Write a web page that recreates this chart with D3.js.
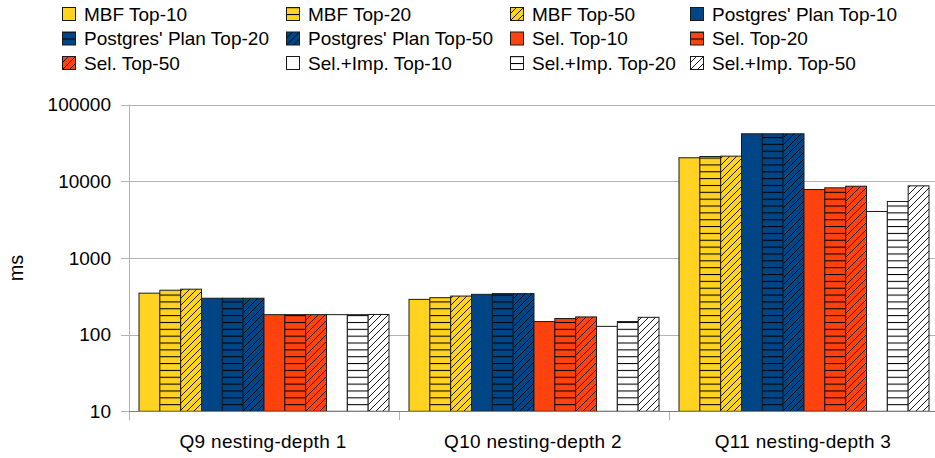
<!DOCTYPE html>
<html>
<head>
<meta charset="utf-8">
<script src="https://cdn.jsdelivr.net/npm/d3@7"></script>
<style>
  body { margin: 0; background: #fff; }
  svg { display: block; font-family: "Liberation Sans", Arial, sans-serif; }
</style>
</head>
<body>
<div id="chart"></div>
<script>
// categories on the x axis
var categories = ["Q9 nesting-depth 1", "Q10 nesting-depth 2", "Q11 nesting-depth 3"];

// series, in legend / bar order
var seriesNames = [
  "MBF Top-10", "MBF Top-20", "MBF Top-50",
  "Postgres' Plan Top-10", "Postgres' Plan Top-20", "Postgres' Plan Top-50",
  "Sel. Top-10", "Sel. Top-20", "Sel. Top-50",
  "Sel.+Imp. Top-10", "Sel.+Imp. Top-20", "Sel.+Imp. Top-50"
];

// values in ms, one array per series (Q9, Q10, Q11)
var mbf10 = [347, 288, 20200];
var mbf20 = [379, 303, 21000];
var mbf50 = [391, 318, 21200];
var pg10 = [298, 335, 41500];
var pg20 = [298, 342, 41500];
var pg50 = [298, 342, 41500];
var sel10 = [182, 148, 7800];
var sel20 = [182, 162, 8200];
var sel50 = [182, 170, 8600];
var si10 = [182, 128, 4030];
var si20 = [182, 148, 5440];
var si50 = [183, 168, 8700];
var seriesValues = [mbf10, mbf20, mbf50, pg10, pg20, pg50, sel10, sel20, sel50, si10, si20, si50];

var yTicks = [10, 100, 1000, 10000, 100000];

// style
var baseColors = ["#ffd320", "#004586", "#ff420e", "#ffffff"];
var hatches = ["none", "horiz", "diag"];

var width = 935, height = 458;
var margin = {top: 104.5, right: -4, bottom: 47, left: 129};

var svg = d3.select("#chart").append("svg")
  .attr("width", width)
  .attr("height", height);

var defs = svg.append("defs");
var hp = defs.append("pattern")
  .attr("id", "horiz")
  .attr("patternUnits", "userSpaceOnUse")
  .attr("width", 8).attr("height", 6.85);
hp.append("line")
  .attr("x1", 0).attr("x2", 8).attr("y1", 0.5).attr("y2", 0.5)
  .attr("stroke", "#000").attr("stroke-width", 1.1);

var dp = defs.append("pattern")
  .attr("id", "diag")
  .attr("patternUnits", "userSpaceOnUse")
  .attr("width", 7).attr("height", 7);
dp.append("path")
  .attr("d", "M0,7 L7,0 M-1,1 L1,-1 M6,8 L8,6")
  .attr("stroke", "#000").attr("stroke-width", 0.9);

var x0 = d3.scaleBand()
  .domain(categories)
  .range([margin.left, width - margin.right]);

var x1 = d3.scaleBand()
  .domain(d3.range(seriesNames.length))
  .range([10, x0.bandwidth() - 10]);

var y = d3.scaleLog()
  .domain([10, 100000])
  .range([height - margin.bottom + 0.3, margin.top]);

// gridlines
svg.append("g")
  .selectAll("line")
  .data(yTicks)
  .join("line")
  .attr("x1", margin.left - 8)
  .attr("x2", width)
  .attr("y1", function(d) { return Math.round(y(d)) + 0.5; })
  .attr("y2", function(d) { return Math.round(y(d)) + 0.5; })
  .attr("stroke", "#b3b3b3")
  .attr("stroke-width", 1);

// y axis line + x tick marks
svg.append("line")
  .attr("x1", margin.left + 0.5).attr("x2", margin.left + 0.5)
  .attr("y1", y(100000)).attr("y2", y(10) + 9)
  .attr("stroke", "#b3b3b3");
svg.append("g")
  .selectAll("line")
  .data(categories.slice(1))
  .join("line")
  .attr("x1", function(d) { return Math.round(x0(d)) + 0.5; })
  .attr("x2", function(d) { return Math.round(x0(d)) + 0.5; })
  .attr("y1", y(10)).attr("y2", y(10) + 9)
  .attr("stroke", "#b3b3b3");

// y tick labels
svg.append("g")
  .selectAll("text")
  .data(yTicks)
  .join("text")
  .attr("x", 111)
  .attr("y", function(d) { return y(d); })
  .attr("dy", "0.35em")
  .attr("text-anchor", "end")
  .attr("font-size", 19)
  .text(function(d) { return d; });

svg.append("text")
  .attr("transform", "translate(23,268) rotate(-90)")
  .attr("text-anchor", "middle")
  .attr("font-size", 20)
  .text("ms");

// bars
var groups = svg.append("g")
  .selectAll("g")
  .data(categories)
  .join("g")
  .attr("transform", function(d) { return "translate(" + x0(d) + ",0)"; });

groups.each(function(cat, ci) {
  var g = d3.select(this);
  seriesValues.forEach(function(vals, si) {
    var bx = x1(si), bw = x1.bandwidth();
    var top = y(vals[ci]), bot = y(10);
    var color = baseColors[Math.floor(si / 3)];
    var hatch = hatches[si % 3];
    g.append("rect")
      .attr("x", bx).attr("y", top)
      .attr("width", bw).attr("height", bot - top)
      .attr("fill", color);
    if (hatch !== "none") {
      g.append("rect")
        .attr("x", bx).attr("y", top)
        .attr("width", bw).attr("height", bot - top)
        .attr("fill", "url(#" + hatch + ")");
    }
    g.append("rect")
      .attr("x", bx).attr("y", top)
      .attr("width", bw).attr("height", bot - top)
      .attr("fill", "none")
      .attr("stroke", "#1a1a1a")
      .attr("stroke-width", 1);
  });
});

// baseline
svg.append("line")
  .attr("x1", margin.left).attr("x2", width)
  .attr("y1", Math.round(y(10)) + 0.5).attr("y2", Math.round(y(10)) + 0.5)
  .attr("stroke", "#808080");

// category labels
svg.append("g")
  .selectAll("text")
  .data(categories)
  .join("text")
  .attr("x", function(d) { return x0(d) + x0.bandwidth() / 2 - 1; })
  .attr("y", 448)
  .attr("text-anchor", "middle")
  .attr("font-size", 19)
  .attr("letter-spacing", 0.3)
  .text(function(d) { return d; });

// legend
var colX = [62, 286, 510, 690];
var rowY = [14, 38.5, 63];
var legend = svg.append("g")
  .selectAll("g")
  .data(seriesNames)
  .join("g")
  .attr("transform", function(d, i) {
    return "translate(" + colX[i % 4] + "," + rowY[Math.floor(i / 4)] + ")";
  });

legend.each(function(name, si) {
  var g = d3.select(this);
  var color = baseColors[Math.floor(si / 3)];
  var hatch = hatches[si % 3];
  g.append("rect")
    .attr("x", 0.5).attr("y", -6.5).attr("width", 13).attr("height", 13)
    .attr("fill", color);
  if (hatch !== "none") {
    g.append("rect")
      .attr("x", 0.5).attr("y", -6.5).attr("width", 13).attr("height", 13)
      .attr("fill", "url(#" + hatch + ")");
  }
  g.append("rect")
    .attr("x", 0.5).attr("y", -6.5).attr("width", 13).attr("height", 13)
    .attr("fill", "none")
    .attr("stroke", "#1a1a1a");
  g.append("text")
    .attr("x", 22)
    .attr("y", 0)
    .attr("dy", "0.35em")
    .attr("font-size", 19)
    .text(name);
});
</script>
</body>
</html>
